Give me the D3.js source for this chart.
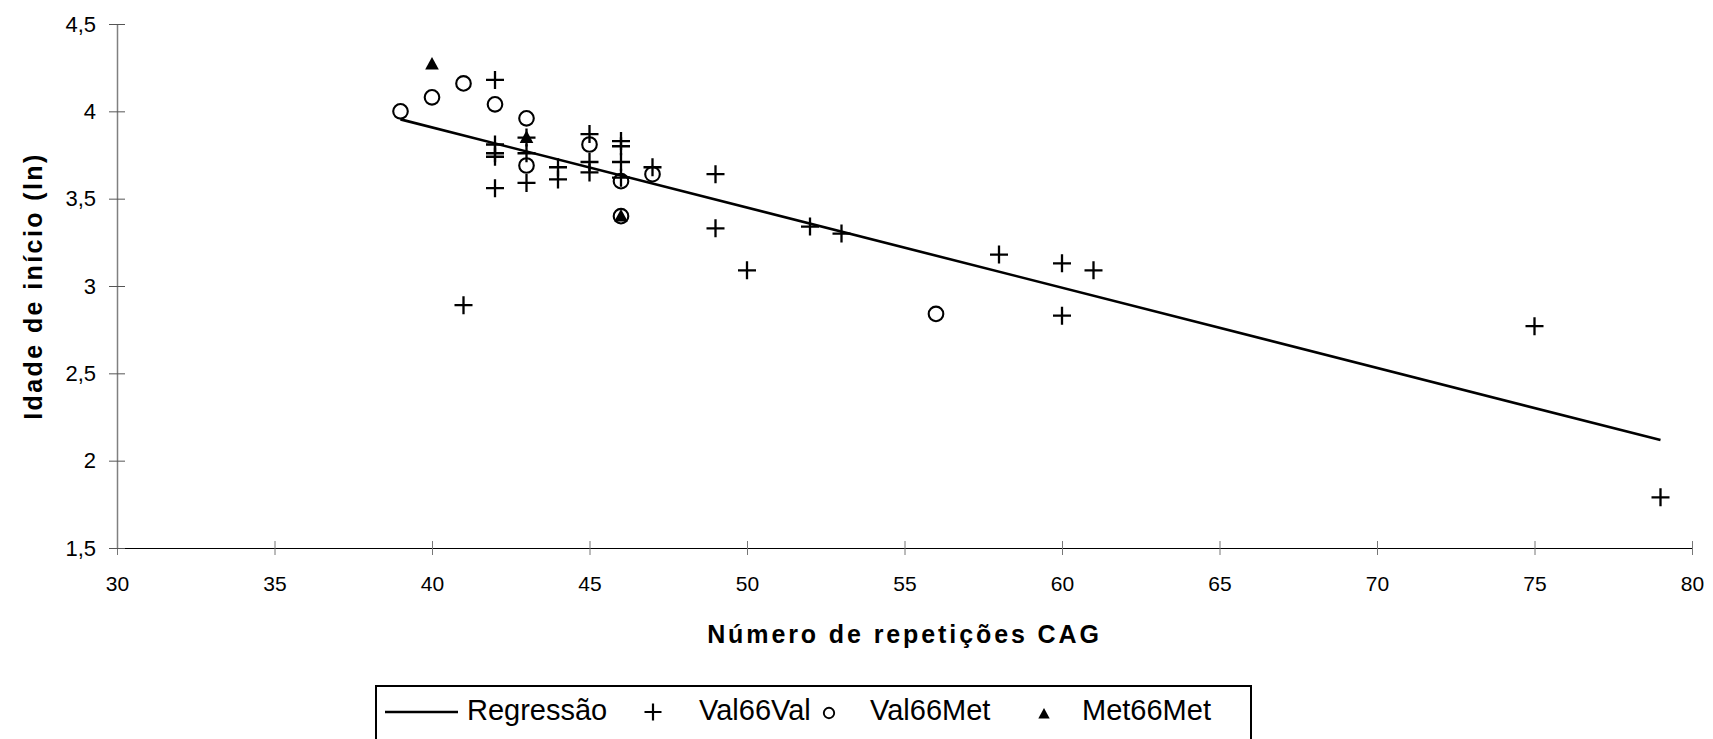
<!DOCTYPE html>
<html>
<head>
<meta charset="utf-8">
<script src="https://cdn.jsdelivr.net/npm/d3@7/dist/d3.min.js"></script>
<style>
  body { margin: 0; background: #fff; }
  text { font-family: "Liberation Sans", Arial, sans-serif; fill: #000; }
</style>
</head>
<body>
<div id="main"></div>
<script>
// CAG repeats (x) vs ln(age of onset) (y), per genotype
const val66val = [
    [41, 2.89], [42, 4.18], [42, 3.81], [42, 3.76], [42, 3.74], [42, 3.56],
    [43, 3.85], [43, 3.76], [43, 3.59], [44, 3.68], [44, 3.61],
    [45, 3.87], [45, 3.71], [45, 3.65], [46, 3.83], [46, 3.80], [46, 3.71], [46, 3.62],
    [47, 3.68], [49, 3.64], [49, 3.33], [50, 3.09], [52, 3.34], [53, 3.30],
    [58, 3.18], [60, 3.13], [60, 2.83], [61, 3.09], [75, 2.77], [79, 1.79]
];
const val66met = [
    [39, 4.00], [40, 4.08], [41, 4.16], [42, 4.04], [43, 3.96], [43, 3.69],
    [45, 3.81], [46, 3.60], [46, 3.40], [47, 3.64], [56, 2.84]
];
const met66met = [[40, 4.27], [43, 3.85], [46, 3.40]];
const regression = [[39, 3.954], [79, 2.118]];

const xTicks = [30, 35, 40, 45, 50, 55, 60, 65, 70, 75, 80];
const yTicks = [1.5, 2, 2.5, 3, 3.5, 4, 4.5];
const yTickLabels = ["1,5", "2", "2,5", "3", "3,5", "4", "4,5"];

const legendLabels = ["Regressão", "Val66Val", "Val66Met", "Met66Met"];

const w = 1713;
const h = 739;
const margin = {top: 24, right: 21, bottom: 191, left: 117};

const xScale = d3.scaleLinear()
    .domain([30, 80])
    .range([margin.left, w - margin.right]);

const yScale = d3.scaleLinear()
    .domain([1.5, 4.5])
    .range([h - margin.bottom, margin.top]);

const svg = d3.select("#main").append("svg").attr("width", w).attr("height", h);

// axes
const xAxis = d3.axisBottom(xScale).tickValues(xTicks).tickSizeOuter(0);
const yAxis = d3.axisLeft(yScale).tickValues(yTicks).tickSizeOuter(0)
    .tickFormat((d, i) => yTickLabels[i]);

const gx = svg.append("g")
    .attr("transform", "translate(0," + (h - margin.bottom) + ")")
    .call(xAxis);
gx.select(".domain").attr("stroke", "#000").attr("stroke-width", 1.2);
gx.selectAll(".tick line").attr("y1", -7).attr("y2", 7).attr("stroke", "#777");
gx.selectAll(".tick text").attr("y", 28).style("font-size", "21px").attr("fill", "#000");

const gy = svg.append("g")
    .attr("transform", "translate(" + margin.left + ",0)")
    .call(yAxis);
gy.select(".domain").attr("stroke", "#808080").attr("stroke-width", 1.5);
gy.selectAll(".tick line").attr("x1", -8).attr("x2", 8).attr("stroke", "#555");
gy.selectAll(".tick text").attr("x", -21).style("font-size", "22px").attr("fill", "#000");
svg.selectAll(".domain, .tick text").attr("font-family", null);

// titles
svg.append("text")
    .attr("x", (margin.left + w - margin.right) / 2)
    .attr("y", 643)
    .attr("text-anchor", "middle")
    .style("font-size", "25px")
    .style("font-weight", "bold")
    .style("letter-spacing", "2.9px")
    .text("Número de repetições CAG");

svg.append("text")
    .attr("transform", "translate(42," + (margin.top + h - margin.bottom) / 2 + ") rotate(-90)")
    .attr("text-anchor", "middle")
    .style("font-size", "25px")
    .style("font-weight", "bold")
    .style("letter-spacing", "2.4px")
    .text("Idade de início (ln)");

// regression line
const line = d3.line().x(d => xScale(d[0])).y(d => yScale(d[1]));
svg.append("path")
    .datum(regression)
    .attr("d", line)
    .attr("fill", "none")
    .attr("stroke", "#000")
    .attr("stroke-width", 2.6);

const plusPath = s => "M" + (-s) + ",0H" + s + "M0," + (-s) + "V" + s;
const triPath = s => "M0," + (-s) + "L" + (s * 0.95) + "," + (s * 0.75) + "L" + (-s * 0.95) + "," + (s * 0.75) + "Z";

// Val66Met circles
svg.selectAll("circle.vm")
    .data(val66met)
    .enter()
    .append("circle")
    .attr("class", "vm")
    .attr("cx", d => xScale(d[0]))
    .attr("cy", d => yScale(d[1]))
    .attr("r", 7.3)
    .attr("fill", "none")
    .attr("stroke", "#000")
    .attr("stroke-width", 2.1);

// Met66Met triangles
svg.selectAll("path.mm")
    .data(met66met)
    .enter()
    .append("path")
    .attr("class", "mm")
    .attr("transform", d => "translate(" + xScale(d[0]) + "," + yScale(d[1]) + ")")
    .attr("d", triPath(7.2))
    .attr("fill", "#000");

// Val66Val pluses
svg.selectAll("path.vv")
    .data(val66val)
    .enter()
    .append("path")
    .attr("class", "vv")
    .attr("transform", d => "translate(" + xScale(d[0]) + "," + yScale(d[1]) + ")")
    .attr("d", plusPath(9))
    .attr("stroke", "#000")
    .attr("stroke-width", 2.3);

// legend
const legend = svg.append("g");
legend.append("rect")
    .attr("x", 376).attr("y", 686)
    .attr("width", 875).attr("height", 70)
    .attr("fill", "#fff")
    .attr("stroke", "#000")
    .attr("stroke-width", 2);

legend.append("line")
    .attr("x1", 385).attr("x2", 458).attr("y1", 712).attr("y2", 712)
    .attr("stroke", "#000").attr("stroke-width", 2.6);
legend.append("path")
    .attr("transform", "translate(653,712)")
    .attr("d", plusPath(8.5))
    .attr("stroke", "#000").attr("stroke-width", 2.2);
legend.append("circle")
    .attr("cx", 829).attr("cy", 713).attr("r", 5.2)
    .attr("fill", "none").attr("stroke", "#000").attr("stroke-width", 1.9);
legend.append("path")
    .attr("transform", "translate(1044,714)")
    .attr("d", triPath(6))
    .attr("fill", "#000");

const legendX = [467, 699, 870, 1082];
legend.selectAll("text")
    .data(legendLabels)
    .enter()
    .append("text")
    .attr("x", (d, i) => legendX[i])
    .attr("y", 720)
    .style("font-size", "29px")
    .text(d => d);
</script>
</body>
</html>
